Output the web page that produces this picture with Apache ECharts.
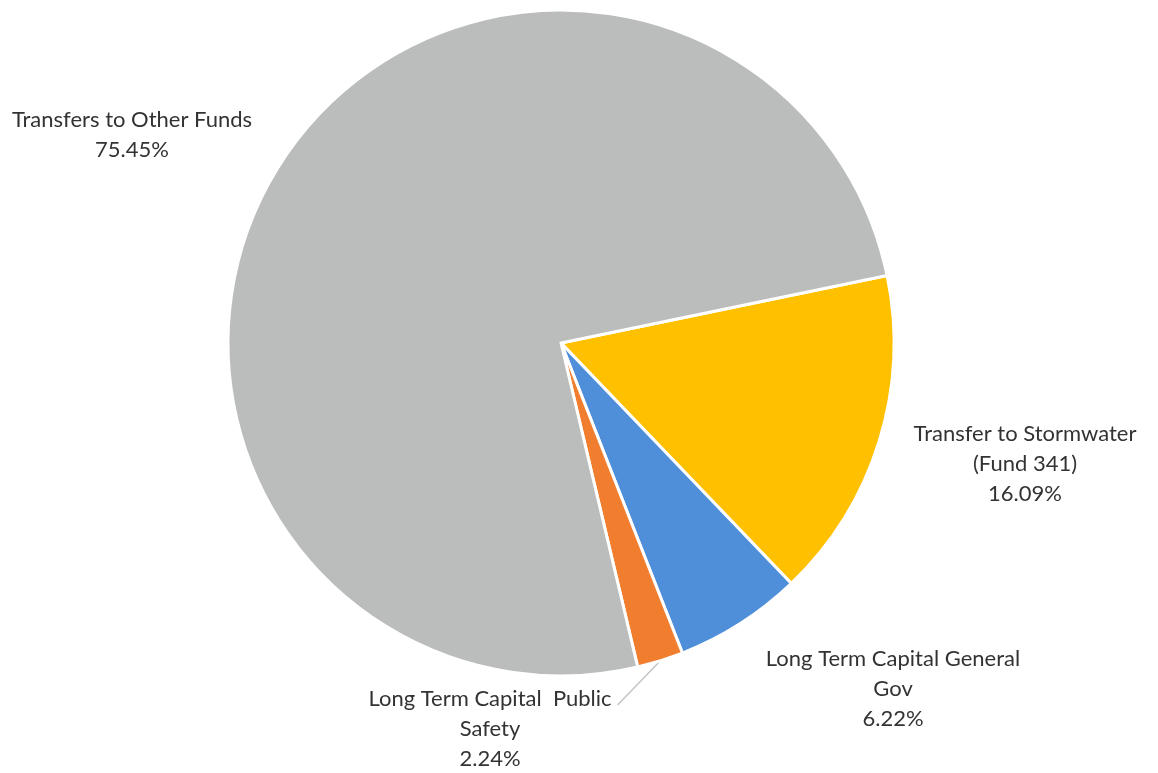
<!DOCTYPE html>
<html>
<head>
<meta charset="utf-8">
<style>
  html, body { margin: 0; padding: 0; background: #ffffff; }
  #chart { width: 1158px; height: 773px; }
</style>
<script src="https://cdn.jsdelivr.net/npm/echarts@6/dist/echarts.min.js"></script>
</head>
<body>
<div id="chart"></div>
<script>
// Budget share by transfer category (percent of total)
const categories = [
  'Transfer to Stormwater\n(Fund 341)',
  'Long Term Capital General\nGov',
  'Long Term Capital  Public\nSafety',
  'Transfers to Other Funds'
];
const shares = [16.09, 6.22, 2.24, 75.45];
const sliceColors = ['#FFC000', '#4F8FDA', '#F07E2E', '#BBBDBC'];
const showLeader = [false, false, true, false];

// label block centres, in pixels
const labelSpots = [
  [1025, 464],
  [893, 689],
  [490, 729],
  [132, 135]
];

const LINE_H = 30;

const chart = echarts.init(document.getElementById('chart'), null, { renderer: 'canvas' });

chart.setOption({
  animation: false,
  backgroundColor: '#ffffff',
  series: [{
    type: 'pie',
    center: [561, 343],
    radius: 333,
    startAngle: 11.7,
    clockwise: true,
    itemStyle: { borderColor: '#ffffff', borderWidth: 3 },
    label: {
      show: true,
      position: 'outside',
      formatter: p => p.name + '\n' + p.value.toFixed(2) + '%',
      fontFamily: 'Lato',
      fontSize: 22,
      lineHeight: LINE_H,
      color: '#333333',
      align: 'center'
    },
    labelLine: {
      show: true,
      length: 10,
      length2: 10,
      lineStyle: { color: '#C4C4C4', width: 1.5 }
    },
    labelLayout: p => {
      const [cx, cy] = labelSpots[p.dataIndex];
      const out = { x: cx, y: cy, align: 'center', verticalAlign: 'middle' };
      if (showLeader[p.dataIndex] && p.labelLinePoints) {
        // leader runs from the slice edge to the end of the label's first line
        const w = p.labelRect.width, h = p.labelRect.height;
        const end = [cx + w / 2 + 6, cy - h / 2 + LINE_H / 2 + 6];
        out.labelLinePoints = [p.labelLinePoints[0], end, end];
      }
      return out;
    },
    emphasis: { disabled: true },
    data: categories.map((name, i) => ({
      name: name,
      value: shares[i],
      itemStyle: { color: sliceColors[i] },
      labelLine: { show: showLeader[i] }
    }))
  }]
});
</script>
</body>
</html>
